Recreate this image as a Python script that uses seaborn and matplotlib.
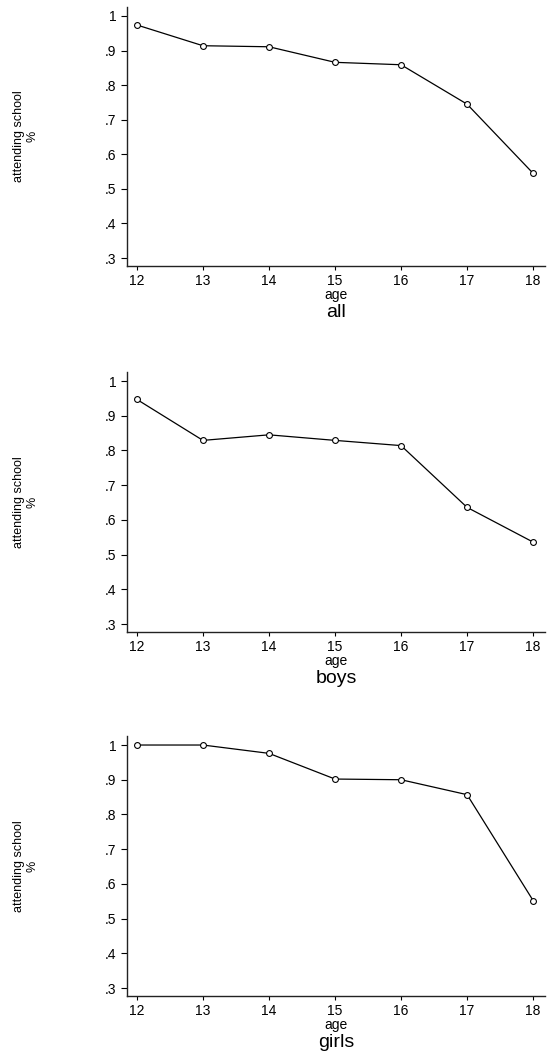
import matplotlib
matplotlib.use("Agg")
import matplotlib.pyplot as plt
import seaborn as sns
import pandas as pd

ages = [12, 13, 14, 15, 16, 17, 18]
share_all = [0.974, 0.914, 0.911, 0.866, 0.859, 0.745, 0.545]
share_boys = [0.947, 0.829, 0.845, 0.829, 0.814, 0.636, 0.536]
share_girls = [1.0, 1.0, 0.976, 0.902, 0.900, 0.857, 0.552]
panel_titles = ["all", "boys", "girls"]
y_ticks = [0.3, 0.4, 0.5, 0.6, 0.7, 0.8, 0.9, 1.0]
y_tick_labels = [".3", ".4", ".5", ".6", ".7", ".8", ".9", "1"]
x_label = "age"
y_label = "attending school\n%"

sns.set_theme(style="ticks")
plt.rcParams["font.family"] = ["Liberation Sans", "DejaVu Sans"]
plt.rcParams["text.color"] = "black"
plt.rcParams["axes.labelcolor"] = "black"
plt.rcParams["xtick.color"] = "black"
plt.rcParams["ytick.color"] = "black"

W, H = 549, 1055
fig = plt.figure(figsize=(W / 100, H / 100), dpi=100)

# axes pixel boxes: (left, top, right, bottom)
boxes = [(127, 7, 545, 266), (127, 372, 545, 632), (127, 736, 545, 996)]
series = [share_all, share_boys, share_girls]

for (l, t, r, b), vals, title in zip(boxes, series, panel_titles):
    ax = fig.add_axes([l / W, 1 - b / H, (r - l) / W, (b - t) / H])
    df = pd.DataFrame({"age": ages, "share": vals})
    sns.lineplot(data=df, x="age", y="share", ax=ax, color="black",
                 linewidth=0.9, marker="o", markersize=4.2,
                 markerfacecolor="white", markeredgecolor="black",
                 markeredgewidth=0.8)
    ax.set_xlim(11.85, 18.18)
    ax.set_ylim(0.277, 1.026)
    ax.set_xticks(ages)
    ax.set_xticklabels([str(a) for a in ages], fontsize=10, color="black")
    ax.set_yticks(y_ticks)
    ax.set_yticklabels(y_tick_labels, fontsize=10, color="black")
    ax.tick_params(axis="y", length=4.3, width=0.8, pad=3.5, colors="black")
    ax.tick_params(axis="x", length=3.0, width=0.8, pad=2.5, colors="black")
    for side in ["top", "right"]:
        ax.spines[side].set_visible(False)
    for side in ["left", "bottom"]:
        ax.spines[side].set_color("#222222")
        ax.spines[side].set_linewidth(1.0)
    ax.set_xlabel(x_label, fontsize=10, labelpad=0.5, color="black")
    ax.set_ylabel(y_label, fontsize=9, va="center", linespacing=1.15,
                  color="black")
    ax.yaxis.set_label_coords(-0.2416, 0.5)
    ax.annotate(title, xy=(0.5, 0), xycoords="axes fraction",
                xytext=(0, -37.0), textcoords="offset points",
                ha="center", va="baseline", fontsize=14, color="black")
    ax.grid(False)

fig.savefig("out.png", dpi=100, facecolor="white")
